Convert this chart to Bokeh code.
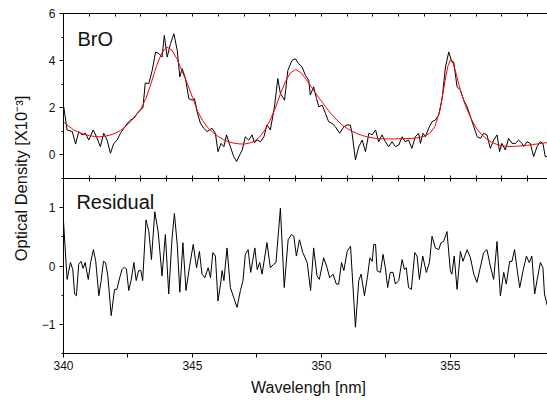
from bokeh.plotting import figure
from bokeh.layouts import row, column
from bokeh.models import Range1d, LinearAxis, FixedTicker, Label
from bokeh.embed import file_html
from bokeh.resources import INLINE

FONT = "Liberation Sans"

# ---- measured spectrum (top panel, black) ----
x_top = [340.01, 340.14, 340.34, 340.47, 340.59, 340.72, 340.85, 340.98, 341.15, 341.28,
         341.43, 341.56, 341.69, 341.82, 341.95, 342.08, 342.21, 342.34, 342.47, 342.60,
         342.73, 342.86, 342.98, 343.08, 343.17, 343.31, 343.44, 343.57, 343.70, 343.82,
         343.91, 344.02, 344.15, 344.28, 344.41, 344.51, 344.60, 344.73, 344.86, 344.99,
         345.08, 345.18, 345.31, 345.44, 345.57, 345.76, 345.89, 345.99, 346.11, 346.22,
         346.32, 346.47, 346.60, 346.71, 346.83, 346.93, 347.05, 347.18, 347.31, 347.40,
         347.51, 347.64, 347.77, 347.89, 348.02, 348.18, 348.31, 348.41, 348.57, 348.70,
         348.86, 348.99, 349.12, 349.25, 349.38, 349.51, 349.57, 349.70, 349.81, 349.90,
         350.03, 350.16, 350.28, 350.41, 350.54, 350.71, 350.87, 350.99, 351.12, 351.19,
         351.32, 351.45, 351.58, 351.71, 351.84, 351.97, 352.10, 352.22, 352.35, 352.48,
         352.61, 352.74, 352.87, 353.00, 353.13, 353.25, 353.38, 353.51, 353.64, 353.77,
         353.84, 353.94, 354.03, 354.16, 354.29, 354.42, 354.55, 354.68, 354.81, 354.94,
         355.04, 355.13, 355.26, 355.39, 355.52, 355.65, 355.78, 355.91, 356.04, 356.17,
         356.29, 356.42, 356.55, 356.68, 356.81, 356.91, 357.00, 357.13, 357.26, 357.39,
         357.52, 357.65, 357.78, 357.84, 357.97, 358.10, 358.23, 358.36, 358.49, 358.59,
         358.68, 358.76]
y_top = [2.04, 1.06, 0.99, 0.46, 0.99, 0.85, 0.92, 0.63, 1.06, 0.77,
         0.35, 0.92, 0.63, 0.07, 0.49, 0.63, 0.92, 1.13, 1.34, 1.48,
         1.55, 1.76, 1.90, 2.00, 3.05, 3.03, 3.59, 4.37, 4.30, 4.15,
         5.07, 4.15, 4.72, 5.14, 4.44, 3.31, 3.66, 3.24, 2.39, 2.32,
         2.39, 1.83, 1.34, 1.13, 0.99, 1.13, 0.92, 0.14, 0.49, 0.35,
         0.85, 0.35, -0.07, -0.28, 0.00, 0.21, 0.77, 0.63, 0.85, 0.52,
         0.63, 0.56, 0.77, 1.27, 1.06, 2.04, 3.24, 2.61, 2.32, 3.59,
         4.01, 4.08, 3.87, 3.73, 3.38, 3.17, 2.54, 2.89, 2.39, 2.04,
         2.11, 1.76, 1.41, 1.34, 1.20, 0.92, 1.20, 1.27, 1.27, 0.92,
         -0.21, 0.35, 0.63, 0.14, 0.92, 0.85, 1.06, 0.56, 0.85, 0.56,
         0.35, 0.56, 0.35, 0.42, 0.77, 0.56, 0.63, 0.28, 0.77, 0.92,
         0.49, 0.92, 0.77, 1.13, 1.41, 1.48, 1.69, 2.39, 3.73, 4.37,
         4.01, 3.94, 2.89, 2.75, 2.32, 2.04, 1.62, 1.20, 0.77, 0.70,
         0.92, 0.85, 0.28, 0.63, 0.85, 0.14, 0.49, 0.21, 0.70, 0.49,
         0.49, 0.63, 0.49, 0.35, 0.56, 0.49, -0.07, 0.35, 0.56, 0.49,
         -0.07, -0.07]

# ---- fitted BrO cross section (top panel, red) ----
x_fit = [340.0, 340.2, 340.4, 340.6, 340.8, 341.0, 341.2, 341.4, 341.6, 341.8,
         342.0, 342.2, 342.4, 342.6, 342.8, 343.0, 343.2, 343.4, 343.6, 343.8,
         344.0, 344.2, 344.4, 344.6, 344.8, 345.0, 345.2, 345.4, 345.6, 345.8,
         346.0, 346.2, 346.4, 346.6, 346.8, 347.0, 347.2, 347.4, 347.6, 347.8,
         348.0, 348.2, 348.4, 348.6, 348.8, 349.0, 349.2, 349.4, 349.6, 349.8,
         350.0, 350.2, 350.4, 350.6, 350.8, 351.0, 351.2, 351.4, 351.6, 351.8,
         352.0, 352.2, 352.4, 352.6, 352.8, 353.0, 353.2, 353.4, 353.6, 353.8,
         354.0, 354.2, 354.4, 354.6, 354.8, 354.9, 355.0, 355.1, 355.2, 355.4,
         355.6, 355.8, 356.0, 356.2, 356.4, 356.6, 356.8, 357.0, 357.2, 357.4,
         357.6, 357.8, 358.0, 358.2, 358.4, 358.6, 358.8]
y_fit = [1.40, 1.22, 1.06, 0.95, 0.87, 0.82, 0.78, 0.77, 0.79, 0.84,
         0.92, 1.03, 1.20, 1.42, 1.68, 1.95, 2.40, 3.05, 3.75, 4.30,
         4.58, 4.45, 4.08, 3.55, 3.03, 2.45, 1.85, 1.45, 1.15, 0.95,
         0.78, 0.65, 0.56, 0.50, 0.47, 0.46, 0.50, 0.58, 0.75, 1.05,
         1.45, 1.95, 2.55, 3.10, 3.48, 3.62, 3.50, 3.22, 2.90, 2.58,
         2.28, 1.98, 1.72, 1.48, 1.28, 1.12, 1.00, 0.90, 0.82, 0.76,
         0.72, 0.69, 0.68, 0.68, 0.68, 0.69, 0.69, 0.70, 0.71, 0.74,
         0.80, 0.92, 1.20, 1.90, 3.17, 3.75, 4.02, 3.90, 3.55, 2.70,
         2.05, 1.55, 1.15, 0.88, 0.68, 0.54, 0.45, 0.39, 0.36, 0.36,
         0.37, 0.39, 0.41, 0.44, 0.47, 0.50, 0.53]

# ---- residual (bottom panel) ----
x_res = [340.00, 340.14, 340.27, 340.36, 340.43, 340.50, 340.59, 340.68, 340.76, 340.84,
         340.96, 341.06, 341.16, 341.25, 341.37, 341.46, 341.55, 341.63, 341.72, 341.85,
         341.98, 342.07, 342.18, 342.27, 342.36, 342.44, 342.53, 342.62, 342.73, 342.82,
         342.91, 343.00, 343.07, 343.20, 343.31, 343.41, 343.54, 343.67, 343.82, 343.95,
         344.08, 344.21, 344.30, 344.41, 344.51, 344.63, 344.75, 344.88, 345.03, 345.16,
         345.27, 345.37, 345.48, 345.61, 345.70, 345.79, 345.89, 345.99, 346.09, 346.15,
         346.22, 346.34, 346.47, 346.60, 346.73, 346.86, 346.96, 347.05, 347.16, 347.26,
         347.42, 347.51, 347.61, 347.70, 347.89, 348.02, 348.15, 348.24, 348.41, 348.56,
         348.71, 348.84, 348.93, 349.03, 349.15, 349.28, 349.45, 349.58, 349.70, 349.83,
         349.92, 350.09, 350.22, 350.32, 350.45, 350.58, 350.67, 350.78, 350.87, 351.00,
         351.13, 351.32, 351.45, 351.54, 351.67, 351.80, 351.88, 351.97, 352.03, 352.10,
         352.16, 352.29, 352.39, 352.48, 352.57, 352.67, 352.78, 352.87, 353.00, 353.13,
         353.22, 353.29, 353.38, 353.49, 353.62, 353.71, 353.80, 353.93, 354.07, 354.19,
         354.29, 354.42, 354.55, 354.64, 354.74, 354.87, 355.00, 355.06, 355.15, 355.26,
         355.39, 355.49, 355.65, 355.78, 355.91, 356.03, 356.16, 356.29, 356.42, 356.55,
         356.68, 356.81, 356.94, 357.07, 357.17, 357.30, 357.39, 357.49, 357.58, 357.69,
         357.82, 357.95, 358.06, 358.16, 358.27, 358.36, 358.49, 358.59, 358.65, 358.76]
y_res = [0.76, -0.23, 0.06, -0.06, -0.48, -0.51, 0.03, 0.08, -0.04, 0.06,
         -0.23, 0.08, 0.28, 0.08, -0.51, -0.25, 0.08, 0.06, -0.17, -0.85,
         -0.40, -0.40, -0.20, -0.06, -0.02, -0.05, -0.42, -0.25, 0.06, -0.25,
         -0.08, -0.08, -0.25, 0.79, 0.59, 0.11, 0.93, 0.59, -0.17, 0.54,
         -0.48, 0.48, 0.90, 0.37, -0.45, 0.40, -0.42, -0.03, 0.37, -0.03,
         0.25, -0.14, -0.20, -0.03, -0.20, 0.23, 0.17, -0.60, -0.31, -0.08,
         -0.25, 0.31, -0.37, -0.54, -0.71, -0.42, -0.25, 0.20, 0.28, -0.11,
         0.31, -0.06, 0.06, -0.14, 0.40, -0.03, 0.03, 0.06, 0.99, -0.37,
         0.45, 0.54, 0.51, 0.17, 0.45, 0.23, 0.06, -0.42, 0.31, -0.17,
         -0.23, 0.14, -0.03, -0.20, -0.14, -0.31, -0.31, 0.06, -0.08, 0.25,
         0.34, -1.05, -0.25, -0.14, -0.51, -0.14, 0.14, 0.08, 0.37, 0.37,
         -0.08, -0.11, 0.20, -0.03, -0.37, -0.11, -0.11, -0.31, -0.25, 0.11,
         -0.06, -0.03, -0.37, -0.40, 0.23, 0.17, -0.23, 0.17, -0.11, 0.06,
         0.51, 0.31, 0.28, 0.40, 0.42, 0.59, -0.08, -0.14, 0.17, -0.40,
         0.25, 0.08, 0.28, 0.14, -0.14, -0.28, -0.03, 0.23, 0.28, 0.00,
         -0.23, 0.42, -0.51, -0.11, -0.31, 0.08, 0.08, 0.28, -0.03, -0.37,
         -0.08, 0.17, 0.06, 0.17, -0.48, -0.25, 0.06, -0.03, -0.48, -0.68]

# axis ticks / labels
x_major = [340, 345, 350, 355]
x_minor = [342.5, 347.5, 352.5, 357.5]
x_edge = list(range(340, 360))
top_major = [0, 2, 4, 6]
top_minor = [-1, 1, 3, 5]
res_major = [-1, 0, 1]
res_minor = [-1.5, -0.5, 0.5, 1.5]

x_range = Range1d(340, 359.0)


def base_fig(height, y_range, top_border, bottom_border):
    f = figure(width=517, height=height, x_range=x_range, y_range=y_range,
               output_backend="svg", toolbar_location=None,
               x_axis_location=None, y_axis_location=None,
               min_border_left=27, min_border_right=0,
               min_border_top=top_border, min_border_bottom=bottom_border)
    f.outline_line_color = None
    f.background_fill_color = "white"
    f.border_fill_color = "white"
    for g in f.grid:
        g.visible = False
    return f


def left_axis(f, major, minor):
    ax = LinearAxis(ticker=FixedTicker(ticks=major, minor_ticks=minor))
    ax.major_tick_in = 0
    ax.major_tick_out = 4
    ax.minor_tick_in = 0
    ax.minor_tick_out = 2
    ax.major_label_standoff = 4
    ax.major_label_text_font = FONT
    ax.major_label_text_font_size = "12px"
    ax.major_label_text_color = "#111111"
    ax.axis_line_color = "black"
    ax.major_tick_line_color = "black"
    ax.minor_tick_line_color = "black"
    f.add_layout(ax, "left")


def edge_axis(f, side, line=True):
    # only minor ticks -> inward tick marks with no labels
    ax = LinearAxis(ticker=FixedTicker(ticks=[], minor_ticks=x_edge))
    ax.major_tick_in = 0
    ax.major_tick_out = 0
    ax.minor_tick_in = 3
    ax.minor_tick_out = 0
    ax.major_label_standoff = 0
    ax.axis_line_color = "black" if line else None
    ax.minor_tick_line_color = "black"
    f.add_layout(ax, side)


top = base_fig(178, Range1d(-1, 6), 13, 0)
left_axis(top, top_major, top_minor)
edge_axis(top, "above")
edge_axis(top, "below", line=False)
top.line(x_top, y_top, line_color="black", line_width=1)
top.line(x_fit, y_fit, line_color="red", line_width=1)
top.add_layout(Label(x=340.54, y=4.92, text="BrO", text_font=FONT,
                     text_font_size="20px", text_color="#111111",
                     text_baseline="alphabetic", text_align="left"))

bot = base_fig(221, Range1d(-1.5, 1.5), 0, 46)
left_axis(bot, res_major, res_minor)
edge_axis(bot, "above")
bx = LinearAxis(ticker=FixedTicker(ticks=x_major, minor_ticks=x_minor),
                axis_label="Wavelengh [nm]")
bx.major_tick_in = 0
bx.major_tick_out = 4
bx.minor_tick_in = 0
bx.minor_tick_out = 4
bx.major_label_standoff = 3
bx.major_label_text_font = FONT
bx.major_label_text_font_size = "12px"
bx.major_label_text_color = "#111111"
bx.axis_label_standoff = 6
bx.axis_label_text_font = FONT
bx.axis_label_text_font_size = "16px"
bx.axis_label_text_font_style = "normal"
bx.axis_label_text_color = "#111111"
bx.axis_line_color = "black"
bot.add_layout(bx, "below")
bot.line(x_res, y_res, line_color="black", line_width=1)
bot.add_layout(Label(x=340.5, y=1.09, text="Residual", text_font=FONT,
                     text_font_size="20px", text_color="#111111",
                     text_baseline="alphabetic", text_align="left"))

lab = figure(width=36, height=399, x_range=Range1d(0, 36), y_range=Range1d(0, 399),
             output_backend="svg", toolbar_location=None,
             x_axis_location=None, y_axis_location=None, min_border=0)
lab.outline_line_color = None
for g in lab.grid:
    g.visible = False
lab.add_layout(Label(x=20, y=221, text="Optical Density [X10\u207b\u00b3]",
                     angle=90, angle_units="deg", text_align="center",
                     text_baseline="middle", text_font=FONT,
                     text_font_size="16.5px", text_color="#111111"))

layout = row(lab, column(top, bot))

html = file_html(layout, INLINE)
html = html.replace("<body>", '<body style="overflow:hidden">', 1)
open("out.html", "w").write(html)
